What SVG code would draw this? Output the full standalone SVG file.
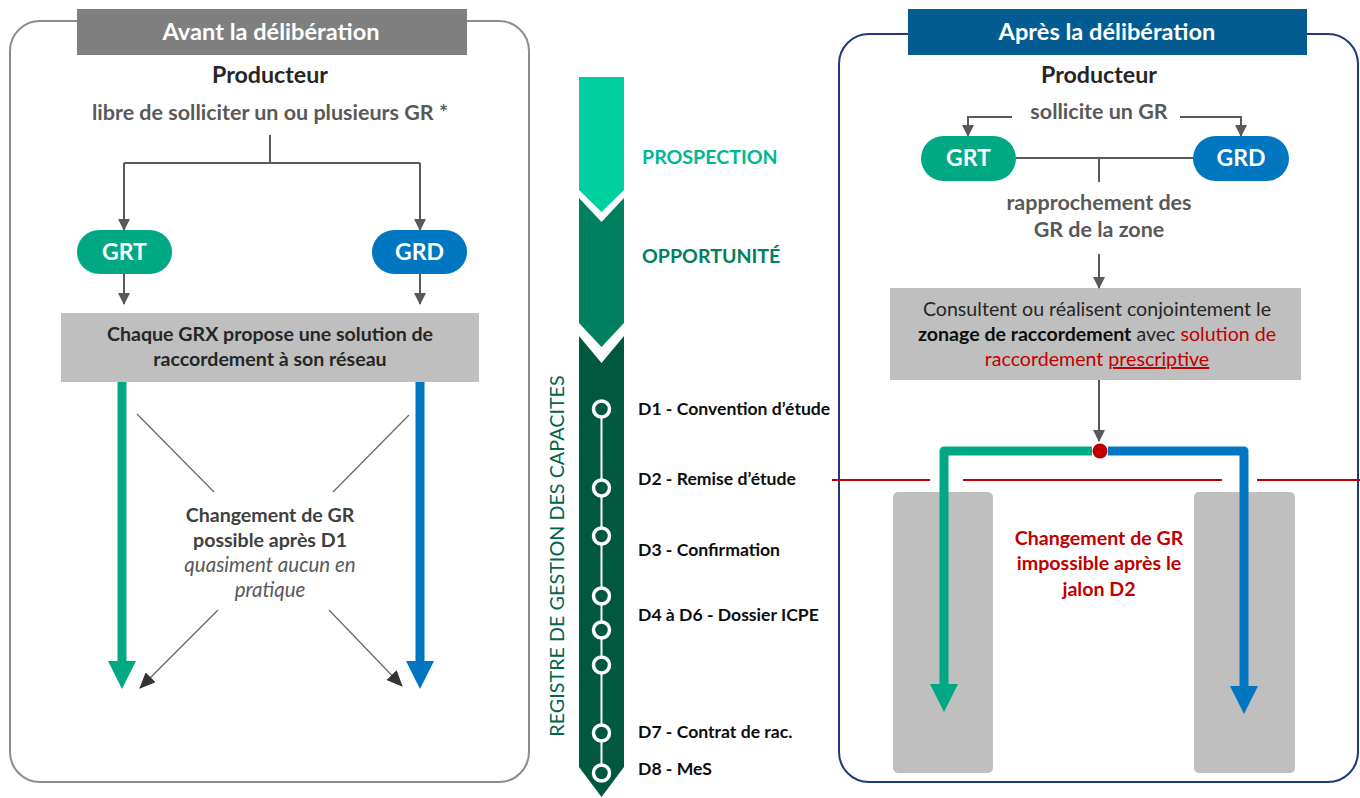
<svg xmlns="http://www.w3.org/2000/svg" width="1360" height="798" viewBox="0 0 1360 798">
<defs>
<style>
text{font-family:Lato,"Open Sans","Liberation Sans",sans-serif;}
.t{font-weight:700;fill:#fff;font-size:23.6px;text-anchor:middle}
.prod{font-weight:700;fill:#262626;font-size:23.2px;text-anchor:middle}
.sub{font-weight:700;fill:#595959;font-size:21.5px;text-anchor:middle}
.pill{font-weight:700;fill:#fff;font-size:23px;text-anchor:middle}
.box{font-size:19.6px;fill:#262626;text-anchor:middle}
.dl{font-weight:700;font-size:17.6px;fill:#0d0d0d}
.chg{font-weight:700;font-size:19.6px;text-anchor:middle}
.conn{fill:none;stroke:#595959;stroke-width:2}
.thin{fill:none;stroke:#666;stroke-width:1.2}
.red{fill:#C00000}
</style>
<marker id="ah" markerUnits="userSpaceOnUse" markerWidth="12" markerHeight="12" refX="11" refY="6" orient="auto">
<path d="M0,0 L12,6 L0,12 z" fill="#595959"/>
</marker>
<marker id="ah2" markerUnits="userSpaceOnUse" markerWidth="16" markerHeight="14" refX="15" refY="7" orient="auto">
<path d="M0,0 L16,7 L0,14 z" fill="#333"/>
</marker>
</defs>
<rect width="1360" height="798" fill="#fff"/>

<!-- LEFT PANEL -->
<g id="panel-avant">
<rect x="10" y="21" width="519" height="761" rx="30" fill="none" stroke="#8c8c8c" stroke-width="2"/>
<rect x="77" y="9" width="390" height="46" fill="#7f7f7f"/>
<text class="t" x="271" y="40">Avant la délibération</text>
</g>
<g id="producteur-avant">
<text class="prod" x="270" y="83">Producteur</text>
<text class="sub" x="270" y="120">libre de solliciter un ou plusieurs GR *</text>
</g>
<g id="grt-avant">
<rect x="77" y="230" width="95" height="44" rx="22" fill="#00A884"/>
<text class="pill" x="124.5" y="260">GRT</text>
</g>
<g id="grd-avant">
<rect x="372" y="230" width="95" height="44" rx="22" fill="#0077C0"/>
<text class="pill" x="419.5" y="260">GRD</text>
</g>
<g id="solution-avant">
<rect x="61" y="313" width="418" height="69" fill="#BFBFBF"/>
<text class="box" font-weight="700" x="270" y="341">Chaque GRX propose une solution de</text>
<text class="box" font-weight="700" x="270" y="366">raccordement à son réseau</text>
</g>
<g id="changement-avant">
<text class="chg" x="270" y="522" fill="#404040">Changement de GR</text>
<text class="chg" x="270" y="547" fill="#404040">possible après D1</text>
<text x="270" y="572" font-style="italic" font-size="20.5" fill="#595959" text-anchor="middle">quasiment aucun en</text>
<text x="270" y="597" font-style="italic" font-size="20.5" fill="#595959" text-anchor="middle">pratique</text>
</g>

<!-- TIMELINE -->
<g id="timeline">
<polygon points="579,77 624,77 624,190 601.5,212 579,190" fill="#00CFA1"/>
<polygon points="579,198 601.5,222 624,198 624,323 601.5,347 579,323" fill="#00805F"/>
<polygon points="579,336 601.5,363 624,336 624,767 601.5,797 579,767" fill="#00583F"/>
<line x1="601.5" y1="400" x2="601.5" y2="775" stroke="#fff" stroke-width="2"/>
<g fill="#00583F" stroke="#fff" stroke-width="3.5">
<circle cx="601.5" cy="409" r="8"/>
<circle cx="601.5" cy="488" r="8"/>
<circle cx="601.5" cy="536" r="8"/>
<circle cx="601.5" cy="596" r="8"/>
<circle cx="601.5" cy="630" r="8"/>
<circle cx="601.5" cy="665" r="8"/>
<circle cx="601.5" cy="733" r="8"/>
<circle cx="601.5" cy="773" r="8"/>
</g>
<text x="642" y="164" font-weight="700" font-size="19.6" fill="#00B890">PROSPECTION</text>
<text x="642" y="263" font-weight="700" font-size="19.6" fill="#00805F">OPPORTUNITÉ</text>
<text transform="translate(564,556) rotate(-90)" text-anchor="middle" font-size="19.8" fill="#00664D">REGISTRE DE GESTION DES CAPACITES</text>
<text class="dl" x="638" y="415">D1 - Convention d’étude</text>
<text class="dl" x="638" y="485">D2 - Remise d’étude</text>
<text class="dl" x="638" y="556">D3 - Confirmation</text>
<text class="dl" x="638" y="621">D4 à D6 - Dossier ICPE</text>
<text class="dl" x="638" y="738">D7 - Contrat de rac.</text>
<text class="dl" x="638" y="775">D8 - MeS</text>
</g>

<!-- RIGHT PANEL -->
<g id="panel-apres">
<rect x="839" y="34" width="519" height="748" rx="30" fill="none" stroke="#1F3A7A" stroke-width="2"/>
<rect x="908" y="9" width="399" height="46" fill="#025B91"/>
<text class="t" x="1107" y="40">Après la délibération</text>
</g>
<g id="producteur-apres">
<text class="prod" x="1099" y="83">Producteur</text>
<text class="sub" x="1099" y="119">sollicite un GR</text>
</g>
<g id="grt-apres">
<rect x="921" y="136" width="95" height="45" rx="22.5" fill="#00A884"/>
<text class="pill" x="968.5" y="166">GRT</text>
</g>
<g id="grd-apres">
<rect x="1193" y="136" width="96" height="45" rx="22.5" fill="#0077C0"/>
<text class="pill" x="1241" y="166">GRD</text>
</g>
<g id="rapprochement">
<text class="sub" x="1099" y="210">rapprochement des</text>
<text class="sub" x="1099" y="237">GR de la zone</text>
</g>
<g id="zonage">
<rect x="890" y="288" width="411" height="92" fill="#BFBFBF"/>
<text class="box" x="1097" y="316">Consultent ou réalisent conjointement le</text>
<text class="box" x="1097" y="341"><tspan font-weight="700" fill="#0d0d0d">zonage de raccordement</tspan> avec <tspan class="red">solution de</tspan></text>
<text class="box" x="1097" y="366"><tspan class="red">raccordement </tspan><tspan class="red" text-decoration="underline">prescriptive</tspan></text>
</g>
<g id="gr-zones">
<rect x="893" y="492" width="100" height="281" rx="5" fill="#BFBFBF"/>
<rect x="1194" y="492" width="101" height="281" rx="5" fill="#BFBFBF"/>
</g>
<g id="changement-apres">
<text class="chg" x="1099" y="545" fill="#C00000">Changement de GR</text>
<text class="chg" x="1099" y="570" fill="#C00000">impossible après le</text>
<text class="chg" x="1099" y="596" fill="#C00000">jalon D2</text>
</g>

<!-- CONNECTORS -->
<g id="connectors">
<path class="conn" d="M270,135 V163 M124,163 H420"/>
<path class="conn" d="M124,163 V230" marker-end="url(#ah)"/>
<path class="conn" d="M420,163 V230" marker-end="url(#ah)"/>
<path class="conn" d="M124,274 V304" marker-end="url(#ah)"/>
<path class="conn" d="M420,274 V304" marker-end="url(#ah)"/>
<line x1="122" y1="382" x2="122" y2="664" stroke="#00A884" stroke-width="9"/>
<polygon points="108,661 136,661 122,689" fill="#00A884"/>
<line x1="420" y1="382" x2="420" y2="664" stroke="#0077C0" stroke-width="9"/>
<polygon points="406,661 434,661 420,689" fill="#0077C0"/>
<line class="thin" x1="137" y1="414" x2="214" y2="492"/>
<line class="thin" x1="409" y1="415" x2="333" y2="492"/>
<line class="thin" stroke="#555" x1="218" y1="610" x2="140" y2="688" marker-end="url(#ah2)"/>
<line class="thin" stroke="#555" x1="329" y1="610" x2="402" y2="686" marker-end="url(#ah2)"/>
<path class="conn" d="M1012,117 H968 V136" marker-end="url(#ah)"/>
<path class="conn" d="M1180,117 H1241 V136" marker-end="url(#ah)"/>
<path class="conn" d="M1016,158 H1193 M1099,158 V182"/>
<path class="conn" d="M1099,254 V288" marker-end="url(#ah)"/>
<path class="conn" d="M1099,380 V441" marker-end="url(#ah)"/>
<path d="M1092,451 H944 V686" fill="none" stroke="#00A884" stroke-width="9" stroke-linejoin="round"/>
<polygon points="930,684 958,684 944,712" fill="#00A884"/>
<path d="M1108,451 H1244 V688" fill="none" stroke="#0077C0" stroke-width="9" stroke-linejoin="round"/>
<polygon points="1230,686 1258,686 1244,714" fill="#0077C0"/>
<circle cx="1100" cy="451" r="7.5" fill="#C00000"/>
<path d="M832,480 H930 M963,480 H1222 M1257,480 H1360" stroke="#C00000" stroke-width="2"/>
</g>
</svg>
